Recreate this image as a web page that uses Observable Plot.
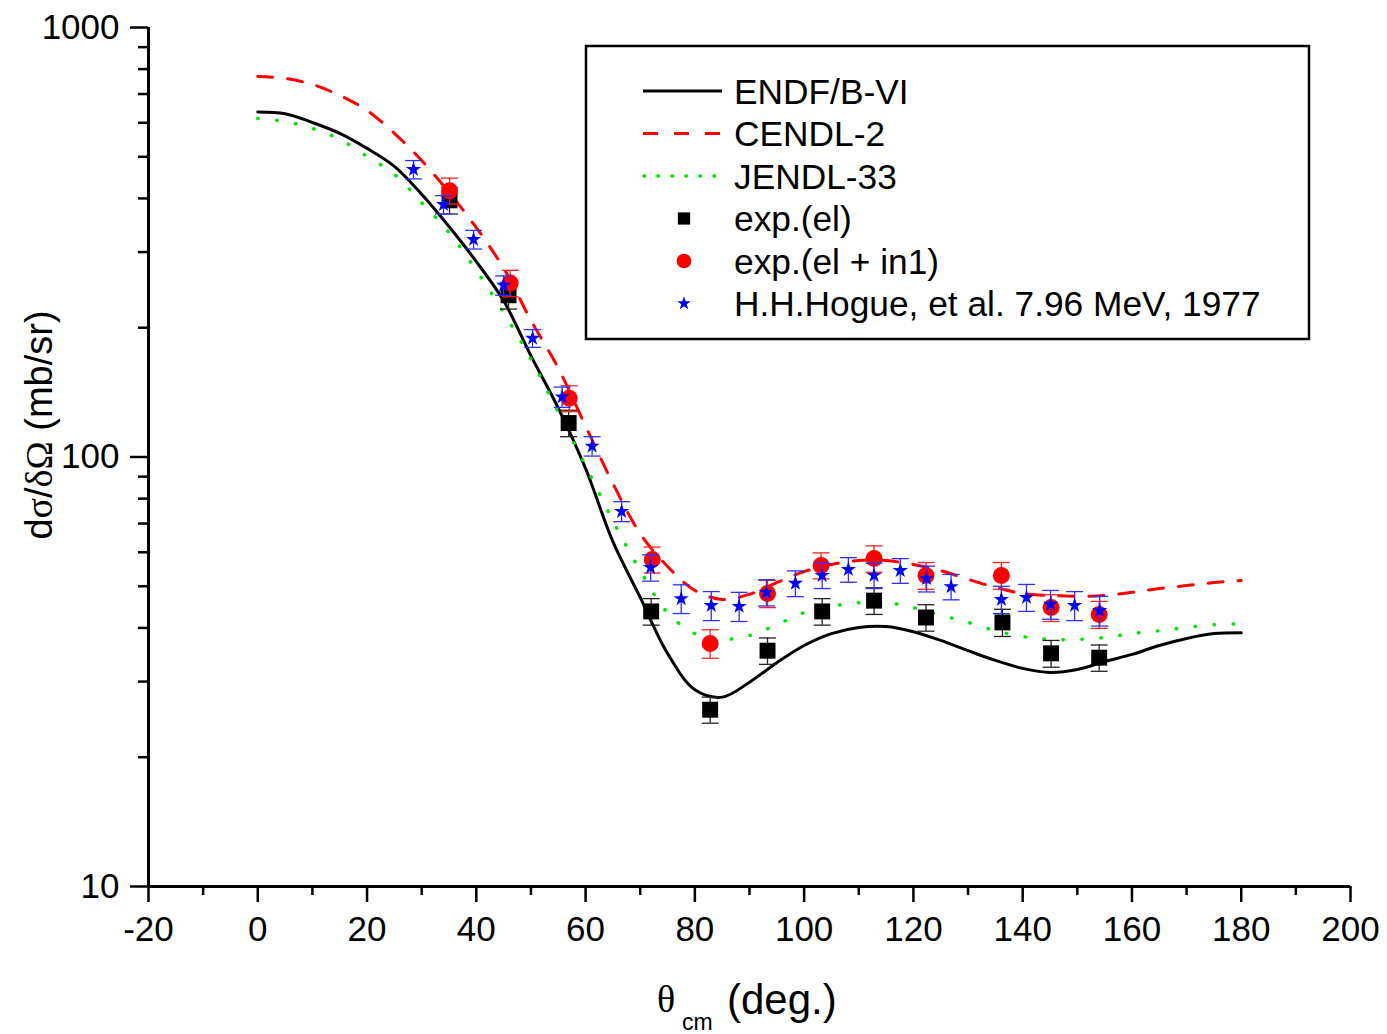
<!DOCTYPE html>
<html><head><meta charset="utf-8">
<script src="https://cdn.jsdelivr.net/npm/d3@7"></script>
<script src="https://cdn.jsdelivr.net/npm/@observablehq/plot@0.6"></script>
<style>body{margin:0;background:#fff} svg{display:block}</style>
</head><body><div id="chart"></div><script>
// Model curves (angle in degrees, cross section in mb/sr)
const modelX = [0,5,10,15,20,25,30,35,40,45,50,55,60,65,70,75,80,85,90,95,100,105,110,115,120,125,130,135,140,145,150,155,160,165,170,175,180];
const endf  = [636,630,601,567,523,475,409,344,285,231,172,130,94,63.5,47.1,34.9,28.7,27.6,29.9,33.2,36.4,38.8,40.1,40.3,39.2,37.4,35.4,33.6,32.2,31.5,32.0,33.4,34.7,36.4,37.8,38.8,39.0];
const cendl = [769,761,737,695,641,567,490,413,342,275,208,161,118,86.8,66.3,55.6,48.9,46.6,47.9,51.0,54.1,56.2,57.4,57.4,56.2,54.4,51.9,49.7,48.1,47.6,47.4,47.6,48.4,49.4,50.2,51.0,51.6];
const jendl = [614,604,582,549,501,455,391,333,272,217,169,127,95.5,71.1,54.4,43.4,38.8,37.6,38.4,40.7,43.4,44.9,45.8,45.8,44.6,42.8,41.2,39.4,38.2,37.6,37.6,38.0,38.8,39.4,40.1,40.7,40.9];

// exp.(el)
const elX   = [35.1,45.9,56.9,72.0,82.8,93.3,103.3,112.8,122.3,136.3,145.2,154.0];
const elY   = [396,238,120,43.7,25.8,35.4,43.7,46.3,42.3,41.2,34.9,34.1];
const elErr = [28,17,8.5,3.1,1.8,2.5,3.1,3.3,3.0,3.0,2.5,2.4];

// exp.(el + in1)
const eliX   = [35.1,46.2,57.0,72.2,82.8,93.3,103.1,112.8,122.3,136.1,145.2,154.0];
const eliY   = [417,254,137,57.7,36.8,48.1,55.9,58.0,53.0,53.0,44.6,43.0];
const eliErr = [29,18,9.5,4.0,2.8,3.5,3.9,4.1,3.8,3.8,3.2,3.1];

// H.H.Hogue et al. 7.96 MeV, 1977
const hX   = [28.5,34.0,39.5,45.0,50.3,55.7,61.2,66.6,71.9,77.5,83.0,88.1,93.1,98.4,103.3,108.1,112.8,117.6,122.4,126.9,136.1,140.7,145.1,149.5,154.1];
const hY   = [467,387,321,251,189,138,106,74.7,55.3,46.8,45.1,44.9,48.4,50.8,53.0,54.7,53.0,54.4,52.1,49.9,46.6,47.1,45.4,45.1,43.9];
const hErr = [23,19,16,13,9,7.5,5.5,4,3.9,3.6,3.5,3.5,3.4,3.5,3.6,3.6,3.6,3.6,3.6,3.4,3.4,3.4,3.5,3.5,3.5];

// Ticks
const xTicks = [-20,0,20,40,60,80,100,120,140,160,180,200];
const xMinor = [-10,10,30,50,70,90,110,130,150,170,190];
const yTicks = [10,100,1000];
const yMinor = [20,30,40,50,60,70,80,90,200,300,400,500,600,700,800,900];

const legendNames = ["ENDF/B-VI","CENDL-2","JENDL-33","exp.(el)","exp.(el + in1)","H.H.Hogue, et al. 7.96 MeV, 1977"];

const curve = (ys) => modelX.map((x,i) => ({x, y: ys[i]}));
const pts = (xs, ys, es) => xs.map((x,i) => ({x, y: ys[i], e: es[i]}));
const elData = pts(elX, elY, elErr);
const eliData = pts(eliX, eliY, eliErr);
const hData = pts(hX, hY, hErr);

const cap = {draw(ctx){ ctx.moveTo(-8.5,0); ctx.lineTo(8.5,0); }};

function errMarks(data, color){
  return [
    Plot.ruleX(data, {x:"x", y1:d=>d.y-d.e, y2:d=>d.y+d.e, stroke:color, strokeWidth:1.3}),
    Plot.dot(data, {x:"x", y:d=>d.y+d.e, symbol:cap, stroke:color, strokeWidth:1.3, r:5}),
    Plot.dot(data, {x:"x", y:d=>d.y-d.e, symbol:cap, stroke:color, strokeWidth:1.3, r:5})
  ];
}

const W = 1387, H = 1034;
const plot = Plot.plot({
  width: W, height: H,
  marginLeft: 148, marginRight: 37, marginTop: 27, marginBottom: 148,
  style: {fontFamily: "'Liberation Sans', Arial, sans-serif", fontSize: "35px", background: "#fff", color: "#000"},
  x: {domain: [-20, 200]},
  y: {type: "log", domain: [10, 1000]},
  marks: [
    Plot.axisX({ticks: xTicks, tickSize: 16, tickPadding: 14, strokeWidth: 2.5, tickFormat: d => String(d), label: null, fontSize: 35}),
    Plot.axisX({ticks: xMinor, tickSize: 9, strokeWidth: 2.5, tickFormat: () => "", label: null}),
    Plot.axisY({ticks: yTicks, tickSize: 18, tickPadding: 11, strokeWidth: 2.5, tickFormat: d => String(d), label: null, fontSize: 35}),
    Plot.axisY({ticks: yMinor, tickSize: 10, strokeWidth: 2.5, tickFormat: () => "", label: null}),
    Plot.ruleY([10], {strokeWidth: 3}),
    Plot.ruleX([-20], {strokeWidth: 3}),
    Plot.line(curve(endf), {x:"x", y:"y", stroke:"#000", strokeWidth:3, curve:"catmull-rom"}),
    Plot.line(curve(cendl), {x:"x", y:"y", stroke:"#ff0000", strokeWidth:3, strokeDasharray:"15,15", curve:"catmull-rom"}),
    Plot.line(curve(jendl), {x:"x", y:"y", stroke:"#00e600", strokeWidth:3.5, strokeDasharray:"0.5,18.5", strokeLinecap:"round", curve:"catmull-rom"}),
    ...errMarks(elData, "#222"),
    Plot.dot(elData, {x:"x", y:"y", symbol:"square", fill:"#000", r:9}),
    ...errMarks(eliData, "#ff2020"),
    Plot.dot(eliData, {x:"x", y:"y", symbol:"circle", fill:"#ff0000", r:8.5}),
    ...errMarks(hData, "#3030ff"),
    Plot.dot(hData, {x:"x", y:"y", symbol:"star", fill:"#0000ff", r:4.8})
  ]
});
document.getElementById("chart").appendChild(plot);

// Axis titles and legend
const svg = d3.select(plot);
const yl = svg.append("text")
  .attr("transform", "translate(52,425) rotate(-90)")
  .attr("text-anchor", "middle")
  .attr("font-family", "'Liberation Sans', Arial, sans-serif")
  .attr("font-size", 38).attr("fill", "#000");
yl.append("tspan").text("d");
yl.append("tspan").attr("font-family", "'Liberation Serif', serif").text("σ");
yl.append("tspan").text("/");
yl.append("tspan").attr("font-family", "'Liberation Serif', serif").text("δΩ");
yl.append("tspan").text(" (mb/sr)");

const xl = svg.append("g").attr("font-family", "'Liberation Sans', Arial, sans-serif").attr("fill", "#000").attr("text-anchor", "start");
xl.append("text").attr("x", 657).attr("y", 1012).attr("font-family", "'Liberation Serif', serif").attr("font-size", 38).text("θ");
xl.append("text").attr("x", 682).attr("y", 1030).attr("font-size", 23).text("cm");
xl.append("text").attr("x", 727).attr("y", 1014).attr("font-size", 42).text("(deg.)");

const lg = svg.append("g").attr("font-family", "'Liberation Sans', Arial, sans-serif").attr("font-size", 35.3).attr("fill", "#000").attr("text-anchor", "start");
lg.append("rect").attr("x", 586).attr("y", 46).attr("width", 723).attr("height", 293)
  .attr("fill", "#fff").attr("stroke", "#000").attr("stroke-width", 2.5);
const rowY = (i) => 91 + i * 42.5;
lg.append("line").attr("x1", 643).attr("x2", 722).attr("y1", rowY(0)).attr("y2", rowY(0)).attr("stroke", "#000").attr("stroke-width", 3);
lg.append("line").attr("x1", 643).attr("x2", 722).attr("y1", rowY(1)).attr("y2", rowY(1)).attr("stroke", "#ff0000").attr("stroke-width", 3).attr("stroke-dasharray", "15,16");
lg.append("line").attr("x1", 644).attr("x2", 722).attr("y1", rowY(2)).attr("y2", rowY(2)).attr("stroke", "#00e600").attr("stroke-width", 3.5).attr("stroke-dasharray", "0.5,13.5").attr("stroke-linecap", "round");
lg.append("path").attr("transform", `translate(684,${rowY(3)})`).attr("d", d3.symbol(d3.symbolSquare, 150)()).attr("fill", "#000");
lg.append("path").attr("transform", `translate(684,${rowY(4)})`).attr("d", d3.symbol(d3.symbolCircle, 170)()).attr("fill", "#ff0000");
lg.append("path").attr("transform", `translate(684,${rowY(5)})`).attr("d", d3.symbol(d3.symbolStar, 60)()).attr("fill", "#0000ff");
legendNames.forEach((n, i) => {
  lg.append("text").attr("x", 734).attr("y", rowY(i)).attr("dy", "0.36em").text(n);
});
</script></body></html>
